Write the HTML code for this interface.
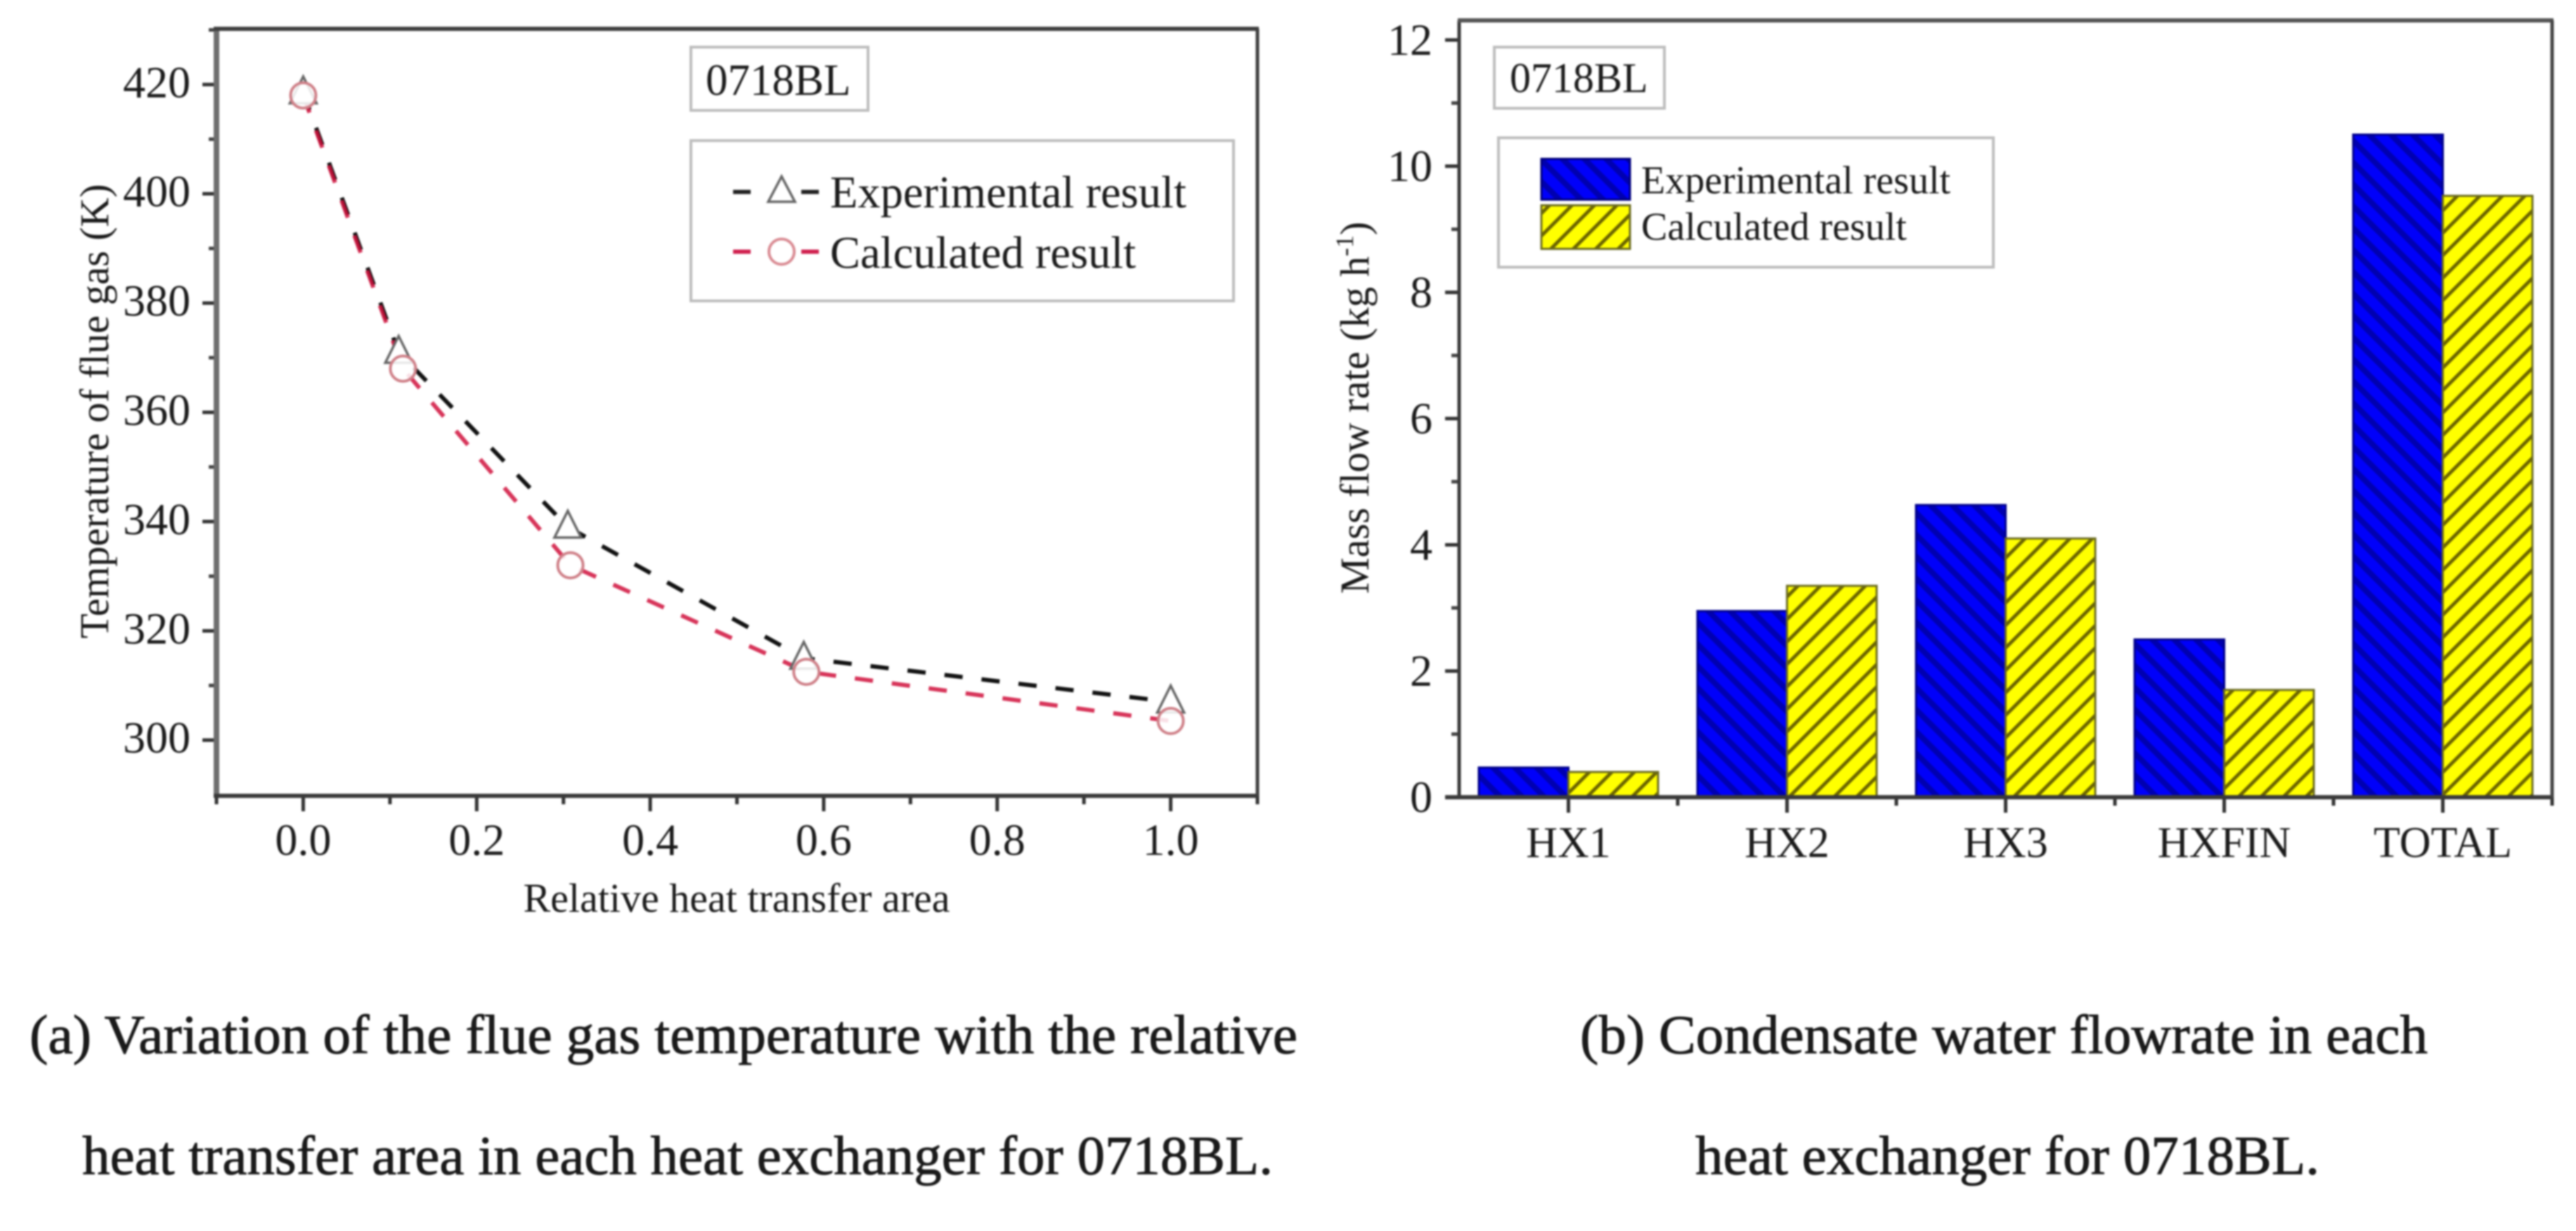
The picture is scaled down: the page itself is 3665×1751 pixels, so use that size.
<!DOCTYPE html>
<html lang="en">
<head>
<meta charset="utf-8">
<title>0718BL flue gas temperature and condensate flowrate</title>
<style>
html,body{margin:0;padding:0;background:#fff;width:3665px;height:1751px;overflow:hidden}
svg{display:block;filter:blur(1.2px)}
text{font-family:"Liberation Serif","Times New Roman",serif;fill:#1a1a1a}
.cap text{stroke:#000;stroke-width:.8px}
</style>
</head>
<body>
<svg id="figure" xmlns="http://www.w3.org/2000/svg" width="3665" height="1751" viewBox="0 0 3665 1751">
<defs>
<pattern id="hatch-blue" width="22" height="22" patternUnits="userSpaceOnUse" patternTransform="rotate(-45)">
<rect width="22" height="22" fill="#0000fa"/><rect width="8" height="22" fill="#0000b0"/>
</pattern>
<pattern id="hatch-yellow" width="22.6" height="22.6" patternUnits="userSpaceOnUse" patternTransform="rotate(45)">
<rect width="22.6" height="22.6" fill="#ffff00"/><rect width="5" height="22.6" fill="#6b6400"/>
</pattern>
</defs>
<rect width="3665" height="1751" fill="#fff"/>

<g id="chart-a"></g>
<g id="chart-b"></g>

<!-- left chart annotation and legend -->
<g>
<rect x="983" y="67" width="252" height="90" fill="#fff" stroke="#bdbdbd" stroke-width="4"/>
<text x="1004" y="135" font-size="63">0718BL</text>
</g>
<g>
<rect x="983" y="200" width="772" height="228" fill="#fff" stroke="#bdbdbd" stroke-width="4"/>
<g>
<line x1="1043" y1="273" x2="1068" y2="273" stroke="#222" stroke-width="6"/>
<line x1="1140" y1="273" x2="1165" y2="273" stroke="#222" stroke-width="6"/>
<path d="M1112 251 L1131 287 L1093 287 Z" fill="#fff" stroke="#666" stroke-width="3.5"/>
<text x="1181" y="295" font-size="64.5">Experimental result</text>
</g>
<g>
<line x1="1043" y1="358" x2="1068" y2="358" stroke="#d0204e" stroke-width="6"/>
<line x1="1140" y1="358" x2="1165" y2="358" stroke="#d0204e" stroke-width="6"/>
<circle cx="1112" cy="358" r="18" fill="#fff" stroke="#d98a92" stroke-width="4"/>
<text x="1181" y="381" font-size="64.5">Calculated result</text>
</g>
</g>

<!-- right chart annotation and legend -->
<g>
<rect x="2126" y="67" width="242" height="87" fill="#fff" stroke="#bdbdbd" stroke-width="4"/>
<text x="2148" y="131" font-size="60">0718BL</text>
</g>
<g>
<rect x="2132" y="196" width="704" height="184" fill="#fff" stroke="#bdbdbd" stroke-width="4"/>
<g>
<rect x="2193" y="226" width="126" height="58" fill="url(#hatch-blue)" stroke="#00007a" stroke-width="3"/>
<text x="2335" y="275" font-size="56">Experimental result</text>
</g>
<g>
<rect x="2193" y="292" width="126" height="62" fill="url(#hatch-yellow)" stroke="#6b6b20" stroke-width="3"/>
<text x="2335" y="341" font-size="56">Calculated result</text>
</g>
</g>

<!-- captions -->
<g class="cap">
<text x="42" y="1498" font-size="78" textLength="1804" lengthAdjust="spacingAndGlyphs" fill="#000">(a) Variation of the flue gas temperature with the relative</text>
<text x="117" y="1670" font-size="78" textLength="1694" lengthAdjust="spacingAndGlyphs" fill="#000">heat transfer area in each heat exchanger for 0718BL.</text>
</g>
<g class="cap">
<text x="2248" y="1498" font-size="78" textLength="1206" lengthAdjust="spacingAndGlyphs" fill="#000">(b) Condensate water flowrate in each</text>
<text x="2412" y="1670" font-size="78" textLength="888" lengthAdjust="spacingAndGlyphs" fill="#000">heat exchanger for 0718BL.</text>
</g>
</svg>

<script>
// ---- Chart (a) data ----
const areaExperimental = [0, 0.11, 0.305, 0.577, 1.0];
const tempExperimental = [418.5, 371, 339, 315, 307];
const areaCalculated = [0, 0.115, 0.308, 0.58, 1.0];
const tempCalculated = [418, 368, 332, 312.5, 303.5];
const xTicksA = ["0.0", "0.2", "0.4", "0.6", "0.8", "1.0"];
const yTicksA = ["300", "320", "340", "360", "380", "400", "420"];

// ---- Chart (b) data ----
const categories = ["HX1", "HX2", "HX3", "HXFIN", "TOTAL"];
const flowExperimental = [0.47, 2.95, 4.63, 2.5, 10.5];
const flowCalculated = [0.4, 3.35, 4.1, 1.7, 9.53];
const yTicksB = ["0", "2", "4", "6", "8", "10", "12"];

const NS = "http://www.w3.org/2000/svg";
function add(parent, tag, attrs, content) {
  const el = document.createElementNS(NS, tag);
  for (const k in attrs) el.setAttribute(k, attrs[k]);
  if (content !== undefined) el.textContent = content;
  parent.appendChild(el);
  return el;
}

// ---------- Chart (a) ----------
(function () {
  const g = document.getElementById("chart-a");
  const L = 308, R = 1789, T = 41, B = 1132;
  const xMin = -0.1, xMax = 1.1, yMin = 289.8, yMax = 430.2;
  const sx = v => L + (v - xMin) / (xMax - xMin) * (R - L);
  const sy = v => B - (v - yMin) / (yMax - yMin) * (B - T);

  let el;
  xTicksA.forEach((lab, i) => {
    const v = parseFloat(lab);
    el = add(g, "line", { x1: sx(v), x2: sx(v), y1: B, y2: B + 22, stroke: "#333", "stroke-width": 5 });
    
    
    el = add(g, "text", { x: sx(v), y: 1216, "font-size": 64, "text-anchor": "middle" }, lab);
    
    
    if (i < xTicksA.length - 1) {
      const m = (v + parseFloat(xTicksA[i + 1])) / 2;
      el = add(g, "line", { x1: sx(m), x2: sx(m), y1: B, y2: B + 12, stroke: "#333", "stroke-width": 5 });
      
      
    }
  });
  [xMin, xMax].forEach(v => {
    el = add(g, "line", { x1: sx(v), x2: sx(v), y1: B, y2: B + 12, stroke: "#333", "stroke-width": 5 });
    
    
  });

  yTicksA.forEach((lab, i) => {
    const v = parseFloat(lab);
    el = add(g, "line", { x1: L - 20, x2: L, y1: sy(v), y2: sy(v), stroke: "#333", "stroke-width": 5 });
    
    
    el = add(g, "text", { x: 271, y: sy(v) + 18, "font-size": 64, "text-anchor": "end" }, lab);
    
    
    const next = i < yTicksA.length - 1 ? parseFloat(yTicksA[i + 1]) : v + 20;
    const m = (v + next) / 2;
    if (m < yMax) {
      el = add(g, "line", { x1: L - 11, x2: L, y1: sy(m), y2: sy(m), stroke: "#444", "stroke-width": 5 });
      
      
    }
  });

  el = add(g, "line", { x1: L, x2: L, y1: T, y2: B + 2, stroke: "#6e6e6e", "stroke-width": 8 });
  
  
  el = add(g, "line", { x1: L - 4, x2: R + 2, y1: B, y2: B, stroke: "#3a3a3a", "stroke-width": 6 });
  
  
  el = add(g, "line", { x1: L - 4, x2: R + 2, y1: T, y2: T, stroke: "#3f3f3f", "stroke-width": 6 });
  
  
  el = add(g, "line", { x1: R, x2: R, y1: T, y2: B, stroke: "#3f3f3f", "stroke-width": 5 });
  
  

  el = add(g, "text", { x: 1048, y: 1297, "font-size": 58, "text-anchor": "middle" }, "Relative heat transfer area");
  
  
  el = add(g, "text", { transform: "translate(154,585) rotate(-90)", "font-size": 58, "text-anchor": "middle" }, "Temperature of flue gas (K)");
  
  

  const pts = (xs, ys) => xs.map((x, i) => sx(x) + "," + sy(ys[i])).join(" ");
  el = add(g, "polyline", { points: pts(areaExperimental, tempExperimental), fill: "none", stroke: "#111", "stroke-width": 6, "stroke-dasharray": "26 27" });
  
  
  el = add(g, "polyline", { points: pts(areaCalculated, tempCalculated), fill: "none", stroke: "#d0103c", "stroke-opacity": 0.85, "stroke-width": 6, "stroke-dasharray": "26 27" });
  
  

  areaExperimental.forEach((x, i) => {
    const cx = sx(x), cy = sy(tempExperimental[i]);
    el = add(g, "path", { d: `M${cx} ${cy - 23} L${cx + 19} ${cy + 15} L${cx - 19} ${cy + 15} Z`, fill: "#fff", stroke: "#666", "stroke-width": 3.5 });
    
    
  });
  areaCalculated.forEach((x, i) => {
    el = add(g, "circle", { cx: sx(x), cy: sy(tempCalculated[i]), r: 18, fill: "#fff", "fill-opacity": 0.85, stroke: "#cf8088", "stroke-width": 4 });
    
    
  });
})();

// ---------- Chart (b) ----------
(function () {
  const g = document.getElementById("chart-b");
  const L = 2076, R = 3631, T = 29, B = 1134;
  const yMax = 12.31;
  const band = (R - L) / categories.length;
  const cx = i => L + band * (i + 0.5);
  const sy = v => B - v / yMax * (B - T);
  const barW = band * 0.41;

  let el;
  categories.forEach((c, i) => {
    el = add(g, "rect", { x: cx(i) - barW, y: sy(flowExperimental[i]), width: barW, height: B - sy(flowExperimental[i]), fill: "url(#hatch-blue)", stroke: "#00008a", "stroke-width": 3 });
    
    
    el = add(g, "rect", { x: cx(i), y: sy(flowCalculated[i]), width: barW, height: B - sy(flowCalculated[i]), fill: "url(#hatch-yellow)", stroke: "#6b6b20", "stroke-width": 3 });
    
    
    el = add(g, "line", { x1: cx(i), x2: cx(i), y1: B, y2: B + 22, stroke: "#333", "stroke-width": 5 });
    
    
    el = add(g, "text", { x: cx(i), y: 1219, "font-size": 62, "text-anchor": "middle" }, c);
    
    
    el = add(g, "line", { x1: cx(i) + band / 2, x2: cx(i) + band / 2, y1: B, y2: B + 12, stroke: "#333", "stroke-width": 5 });
    
    
  });

  yTicksB.forEach((lab, i) => {
    const v = parseFloat(lab);
    el = add(g, "line", { x1: L - 20, x2: L, y1: sy(v), y2: sy(v), stroke: "#333", "stroke-width": 5 });
    
    
    el = add(g, "text", { x: 2038, y: sy(v) + 21, "font-size": 64, "text-anchor": "end" }, lab);
    
    
    if (i < yTicksB.length - 1) {
      const m = v + 1;
      el = add(g, "line", { x1: L - 11, x2: L, y1: sy(m), y2: sy(m), stroke: "#444", "stroke-width": 5 });
      
      
    }
  });

  el = add(g, "line", { x1: L, x2: L, y1: T, y2: B, stroke: "#3a3a3a", "stroke-width": 5 });
  
  
  el = add(g, "line", { x1: L - 20, x2: R + 2, y1: B, y2: B, stroke: "#3a3a3a", "stroke-width": 6 });
  
  
  el = add(g, "line", { x1: L - 2, x2: R + 2, y1: T, y2: T, stroke: "#555", "stroke-width": 6 });
  
  
  el = add(g, "line", { x1: R, x2: R, y1: T, y2: B, stroke: "#444", "stroke-width": 5 });
  
  

  el = add(g, "text", { transform: "translate(1947,580) rotate(-90)", "font-size": 58, "text-anchor": "middle" });
  
  
  add(el, "tspan", {}, "Mass flow rate (kg h");
  add(el, "tspan", { dy: -22, "font-size": 36 }, "-1");
  add(el, "tspan", { dy: 22 }, ")");
})();
</script>
</body>
</html>
